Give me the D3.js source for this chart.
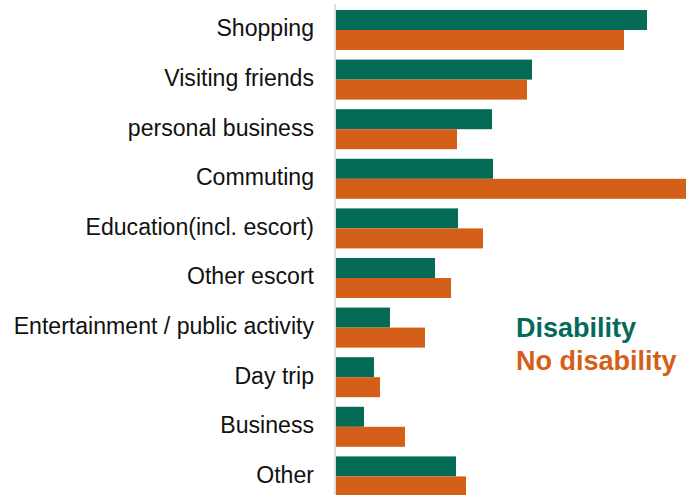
<!DOCTYPE html>
<html>
<head>
<meta charset="utf-8">
<script src="https://cdn.jsdelivr.net/npm/d3@7"></script>
<style>
  html, body { margin: 0; padding: 0; background: #fff; }
  svg { display: block; font-family: "Liberation Sans", Arial, sans-serif; }
</style>
</head>
<body>
<svg id="chart" width="686" height="495"></svg>
<script>
// Trip purposes, top to bottom
const categories = [
  "Shopping", "Visiting friends", "personal business", "Commuting",
  "Education(incl. escort)", "Other escort", "Entertainment / public activity",
  "Day trip", "Business", "Other"
];
const seriesNames = ["Disability", "No disability"];
// Trips per person per year by purpose
const disability   = [155.5, 98, 78, 78.5, 61, 49.5, 27, 19, 14, 60];
const noDisability = [144, 95.5, 60.5, 180, 73.5, 57.5, 44.5, 22, 34.5, 65];
const seriesColors = ["#046b56", "#d45f18"];

const svg = d3.select("#chart");

const x = d3.scaleLinear().domain([0, 160]).range([336, 656]);

const y = d3.scaleBand()
  .domain(categories)
  .range([10, 496.4])
  .paddingInner(0.1935)
  .paddingOuter(0);

const ySub = d3.scaleBand()
  .domain(seriesNames)
  .range([0, y.bandwidth()])
  .padding(0);

const color = d3.scaleOrdinal().domain(seriesNames).range(seriesColors);

const rows = categories.map((c, i) => ({
  category: c,
  values: [
    { series: seriesNames[0], value: disability[i] },
    { series: seriesNames[1], value: noDisability[i] }
  ]
}));

// Bars
const groups = svg.append("g")
  .selectAll("g")
  .data(rows)
  .join("g")
  .attr("transform", d => `translate(0,${y(d.category)})`);

groups.selectAll("rect")
  .data(d => d.values)
  .join("rect")
  .attr("x", x(0))
  .attr("y", d => ySub(d.series))
  .attr("width", d => x(d.value) - x(0))
  .attr("height", ySub.bandwidth())
  .attr("fill", d => color(d.series));

// Category axis
const axis = svg.append("g")
  .attr("transform", `translate(${x(0) - 1},0)`)
  .call(d3.axisLeft(y).tickSize(0).tickPadding(21));

axis.select(".domain")
  .attr("stroke", "#d4d4d4")
  .attr("stroke-width", 1.5)
  .attr("d", "M0,4V495");

axis.selectAll("text")
  .attr("font-family", "'Liberation Sans', Arial, sans-serif")
  .attr("font-size", 23.1)
  .attr("dy", "0.28em")
  .attr("fill", "#111");

// Legend
const legend = svg.append("g").attr("transform", "translate(516,0)");
legend.selectAll("text")
  .data(seriesNames)
  .join("text")
  .attr("x", 0)
  .attr("y", (d, i) => 337 + i * 32.5)
  .attr("font-size", 27)
  .attr("font-weight", "bold")
  .attr("fill", d => color(d))
  .text(d => d);
</script>
</body>
</html>
